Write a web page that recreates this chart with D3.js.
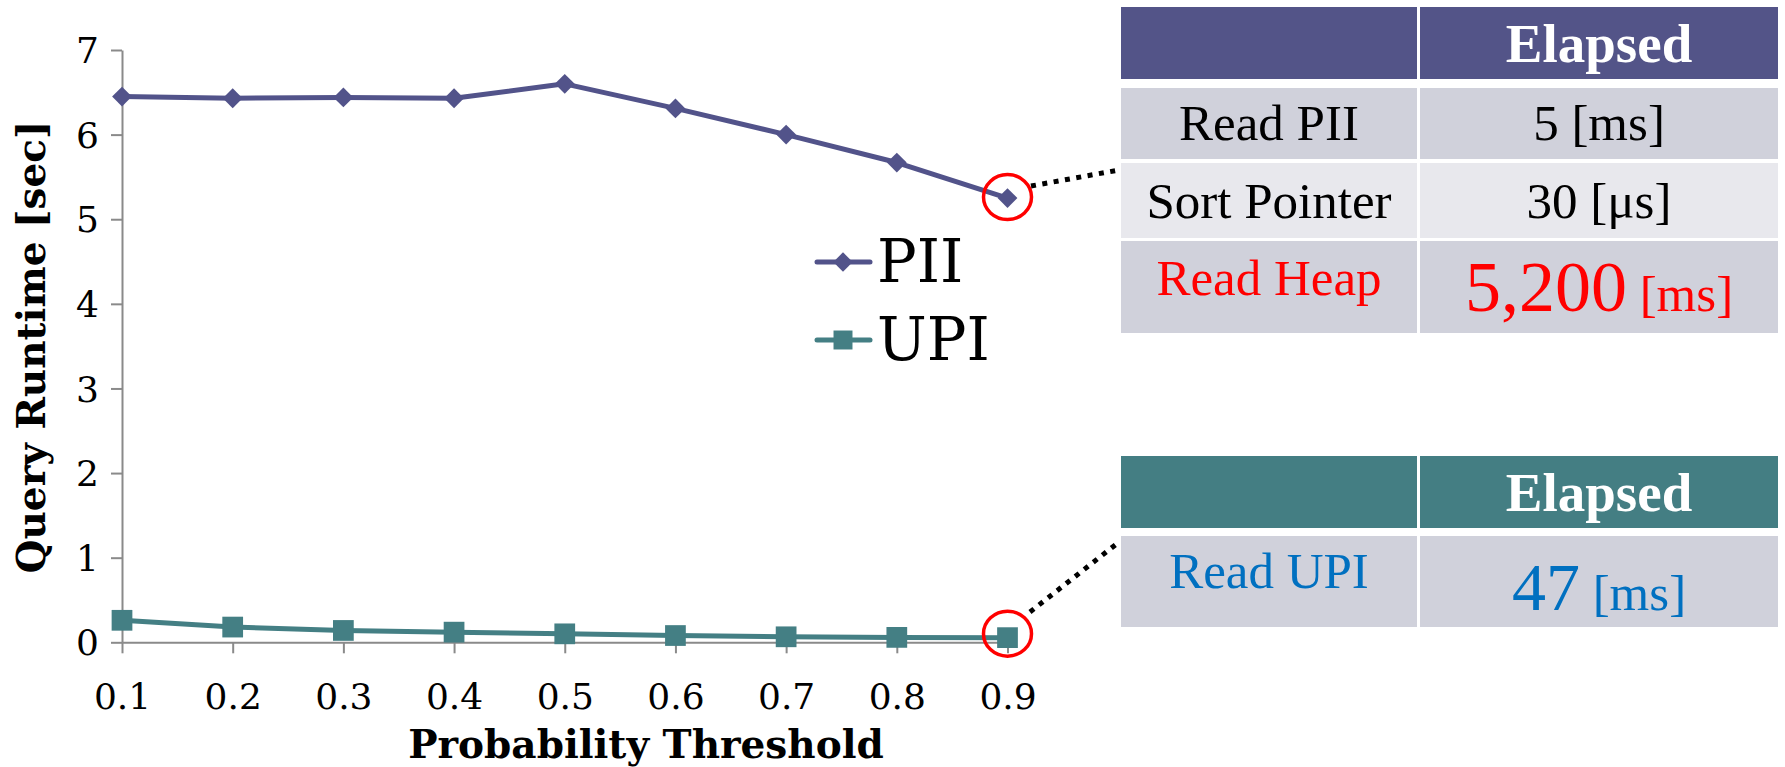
<!DOCTYPE html>
<html><head><meta charset="utf-8">
<script src="https://cdn.jsdelivr.net/npm/d3@7"></script>
<style>
html,body{margin:0;padding:0;background:#fff;}
svg{display:block;}
</style></head>
<body>
<script>
// ---- data ----
const categories = ["0.1","0.2","0.3","0.4","0.5","0.6","0.7","0.8","0.9"];
const piiValues = [6.45, 6.43, 6.44, 6.43, 6.60, 6.31, 6.00, 5.67, 5.25];
const upiValues = [0.26, 0.18, 0.14, 0.12, 0.10, 0.08, 0.065, 0.058, 0.055];
const yTicks = [0,1,2,3,4,5,6,7];
const seriesNames = ["PII","UPI"];
const xTitle = "Probability Threshold";
const yTitle = "Query Runtime [sec]";
const tableHeader = "Elapsed";
const piiTableLabels = ["Read PII","Sort Pointer","Read Heap"];
const piiTableValues = ["5","30","5,200"];
const piiTableUnits = ["[ms]","[\u03bcs]","[ms]"];
const upiTableLabels = ["Read UPI"];
const upiTableValues = ["47"];
const upiTableUnits = ["[ms]"];

// ---- styles ----
const W = 1785, H = 767;
const cPII = "#52538a", cUPI = "#447f84";
const serif = "'DejaVu Serif', serif";
const tserif = "'Liberation Serif', 'Times New Roman', serif";

const svg = d3.select("body").append("svg").attr("width", W).attr("height", H);

const x = d3.scalePoint().domain(categories).range([122, 1007.5]).padding(0);
const y = d3.scaleLinear().domain([0,7]).range([642.3, 50]);

// axes
const yAxis = d3.axisLeft(y).tickValues(yTicks).tickSize(11).tickSizeOuter(0).tickPadding(12).tickFormat(d3.format("d"));
const gy = svg.append("g").attr("transform", `translate(${x(categories[0])},0)`).call(yAxis);
gy.selectAll("path, line").attr("stroke", "#8a8a8a").attr("stroke-width", 2);
gy.selectAll("text").attr("font-family", serif).attr("font-size", 36).attr("fill", "#000").attr("dy","0.35em");

const xAxis = d3.axisBottom(x).tickSize(11).tickSizeOuter(0).tickPadding(0);
const gx = svg.append("g").attr("transform", `translate(0,${y(0)})`).call(xAxis);
gx.selectAll("path, line").attr("stroke", "#8a8a8a").attr("stroke-width", 2);
gx.selectAll("text").attr("font-family", serif).attr("font-size", 36).attr("fill", "#000").attr("dy", null).attr("y", 67);

// titles
svg.append("text").attr("x", 646).attr("y", 758).attr("text-anchor","middle")
  .attr("font-family", serif).attr("font-weight","bold").attr("font-size", 39).text(xTitle);
svg.append("text").attr("transform","translate(45,347) rotate(-90)").attr("text-anchor","middle")
  .attr("font-family", serif).attr("font-weight","bold").attr("font-size", 39).text(yTitle);

// lines
const line = d3.line().x((d,i)=>x(categories[i])).y(d=>y(d));
svg.append("path").datum(piiValues).attr("d", line).attr("fill","none").attr("stroke", cPII).attr("stroke-width", 5).attr("stroke-linejoin","round");
svg.append("path").datum(upiValues).attr("d", line).attr("fill","none").attr("stroke", cUPI).attr("stroke-width", 5).attr("stroke-linejoin","round");

const diamond = d3.symbol().type(d3.symbolDiamond2).size(250);
svg.append("g").selectAll("path").data(piiValues).join("path")
  .attr("d", diamond).attr("transform",(d,i)=>`translate(${x(categories[i])},${y(d)})`).attr("fill", cPII);
const sq = d3.symbol().type(d3.symbolSquare).size(430);
svg.append("g").selectAll("path").data(upiValues).join("path")
  .attr("d", sq).attr("transform",(d,i)=>`translate(${x(categories[i])},${y(d)})`).attr("fill", cUPI);

// legend
const legY = [262, 340];
const legColors = [cPII, cUPI];
seriesNames.forEach((n,i)=>{
  const g = svg.append("g");
  g.append("line").attr("x1",817).attr("x2",870).attr("y1",legY[i]).attr("y2",legY[i])
    .attr("stroke",legColors[i]).attr("stroke-width",5).attr("stroke-linecap","round");
  g.append("path").attr("d", i===0 ? d3.symbol().type(d3.symbolDiamond2).size(240)() : d3.symbol().type(d3.symbolSquare).size(360)())
    .attr("transform",`translate(843,${legY[i]})`).attr("fill",legColors[i]);
  g.append("text").attr("x",877).attr("y",legY[i]+20).attr("font-family",serif).attr("font-size",59).attr("fill","#000").text(n);
});

// highlight circles
const lastIdx = categories.length-1;
[[piiValues[lastIdx], -1],[upiValues[lastIdx], -4]].forEach(([v,off])=>{
  svg.append("ellipse").attr("cx", x(categories[lastIdx])).attr("cy", y(v)+off).attr("rx",24).attr("ry",22.5)
    .attr("fill","none").attr("stroke","#ff0000").attr("stroke-width",3.5);
});

// dotted connectors
svg.append("line").attr("x1",1031).attr("y1",186).attr("x2",1119).attr("y2",170)
  .attr("stroke","#000").attr("stroke-width",5).attr("stroke-dasharray","5,6.5");
svg.append("line").attr("x1",1030).attr("y1",612).attr("x2",1119).attr("y2",542)
  .attr("stroke","#000").attr("stroke-width",5).attr("stroke-dasharray","5,6.5");

// tables
function drawTable(headerColor, top, rows, labels, values, units, valueSizes, colors, labelBase, valueBase){
  const c1 = [1121, 1417], c2 = [1420, 1778];
  const g = svg.append("g");
  g.append("rect").attr("x",c1[0]).attr("y",top).attr("width",c1[1]-c1[0]).attr("height",72).attr("fill",headerColor);
  g.append("rect").attr("x",c2[0]).attr("y",top).attr("width",c2[1]-c2[0]).attr("height",72).attr("fill",headerColor);
  g.append("text").attr("x",(c2[0]+c2[1])/2).attr("y",top+55).attr("text-anchor","middle")
    .attr("font-family",tserif).attr("font-weight","bold").attr("font-size",55).attr("fill","#fff").text(tableHeader);
  rows.forEach((r,i)=>{
    g.append("rect").attr("x",c1[0]).attr("y",r[0]).attr("width",c1[1]-c1[0]).attr("height",r[1]-r[0]).attr("fill",r[2]);
    g.append("rect").attr("x",c2[0]).attr("y",r[0]).attr("width",c2[1]-c2[0]).attr("height",r[1]-r[0]).attr("fill",r[2]);
    g.append("text").attr("x",(c1[0]+c1[1])/2).attr("y",labelBase[i]).attr("text-anchor","middle")
      .attr("font-family",tserif).attr("font-size",51).attr("fill",colors[i]).text(labels[i]);
    const t = g.append("text").attr("x",(c2[0]+c2[1])/2).attr("y",valueBase[i]).attr("text-anchor","middle")
      .attr("font-family",tserif).attr("fill",colors[i]);
    t.append("tspan").attr("font-size",valueSizes[i]).text(values[i]);
    t.append("tspan").attr("font-size",51).text("\u00a0" + units[i]);
  });
}
drawTable("#535488", 7,
  [[88,159,"#d0d1db"],[163,238,"#e8e8ed"],[241,333,"#d0d1db"]],
  piiTableLabels, piiTableValues, piiTableUnits, [51,51,72], ["#000","#000","#ff0000"],
  [140,218,295],[140,218,311]);
drawTable("#447e83", 456,
  [[536,627,"#d0d1db"]],
  upiTableLabels, upiTableValues, upiTableUnits, [68], ["#0070c0"],
  [588],[610]);
</script>
</body></html>
